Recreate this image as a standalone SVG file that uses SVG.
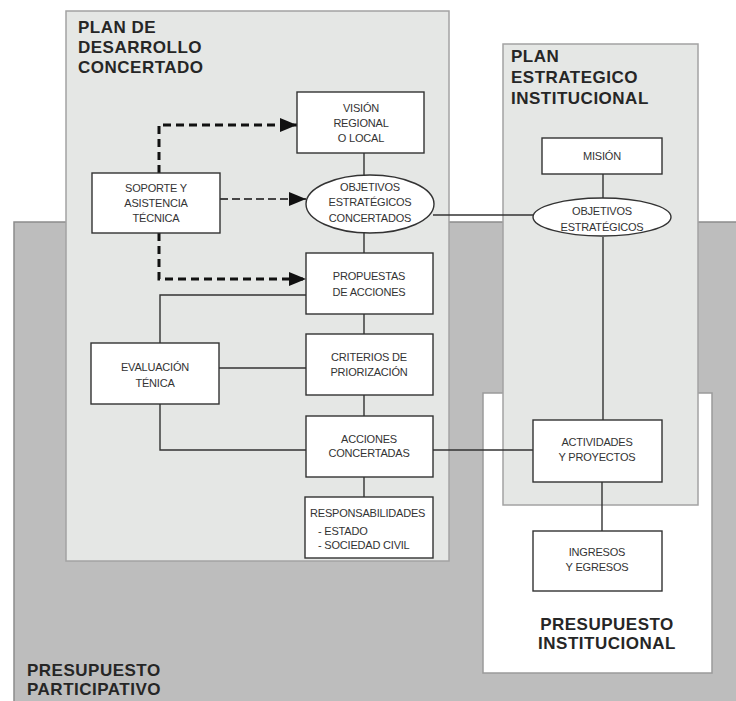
<svg xmlns="http://www.w3.org/2000/svg" width="736" height="701" viewBox="0 0 736 701">
<defs>
<style>
.node{fill:#ffffff;stroke:#333333;stroke-width:1.4}
.t{font-family:"Liberation Sans",Arial,sans-serif;font-size:11px;fill:#333333;text-anchor:middle;letter-spacing:-0.2px}
.tl{font-family:"Liberation Sans",Arial,sans-serif;font-size:11px;fill:#333333;letter-spacing:-0.2px}
.title{font-family:"Liberation Sans",Arial,sans-serif;font-size:17px;font-weight:bold;fill:#262626;letter-spacing:0.5px}
.ln{fill:none;stroke:#333333;stroke-width:1.4}
.dash1{fill:none;stroke:#111111;stroke-width:3;stroke-dasharray:8 5}
.dash2{fill:none;stroke:#111111;stroke-width:1.6;stroke-dasharray:8 4}
</style>
<marker id="arr" markerUnits="userSpaceOnUse" markerWidth="18" markerHeight="14" refX="17" refY="7" orient="auto">
<path d="M0,0 L17,7 L0,14 Z" fill="#111111"/>
</marker>
</defs>
<rect width="736" height="701" fill="#ffffff"/>
<g id="presupuesto-participativo">
<rect x="14" y="222" width="730" height="490" fill="#bdbdbd" stroke="#8c8c8c" stroke-width="1.5"/>
<text class="title" x="27" y="676">PRESUPUESTO</text>
<text class="title" x="27" y="695">PARTICIPATIVO</text>
</g>
<g id="plan-desarrollo-concertado">
<rect x="66" y="11" width="383" height="550" fill="#e5e7e5" stroke="#a3a3a3" stroke-width="1.5"/>
<text class="title" x="78" y="33">PLAN DE</text>
<text class="title" x="78" y="53">DESARROLLO</text>
<text class="title" x="78" y="73">CONCERTADO</text>
</g>
<g id="presupuesto-institucional">
<rect x="483" y="393" width="229" height="280" fill="#ffffff" stroke="#9a9a9a" stroke-width="1.5"/>
<text class="title" x="607" y="630" text-anchor="middle">PRESUPUESTO</text>
<text class="title" x="607" y="649" text-anchor="middle">INSTITUCIONAL</text>
</g>
<g id="plan-estrategico-institucional">
<rect x="503" y="44" width="195" height="461" fill="#e5e7e5" stroke="#a3a3a3" stroke-width="1.5"/>
<text class="title" x="511" y="62">PLAN</text>
<text class="title" x="511" y="83">ESTRATEGICO</text>
<text class="title" x="511" y="104">INSTITUCIONAL</text>
</g>
<g id="connectors">
<path class="ln" d="M364,153 V175"/>
<path class="ln" d="M364,233 V253"/>
<path class="ln" d="M364,314 V334"/>
<path class="ln" d="M364,395 V416"/>
<path class="ln" d="M364,477 V497"/>
<path class="ln" d="M160,343 V295 H306"/>
<path class="ln" d="M219,368 H306"/>
<path class="ln" d="M160,404 V450 H306"/>
<path class="ln" d="M433,450 H533"/>
<path class="ln" d="M433,215 H534"/>
<path class="ln" d="M603,174 V198"/>
<path class="ln" d="M603,237 V420"/>
<path class="ln" d="M602,482 V531"/>
<path class="dash1" d="M159,173 V125 H297" marker-end="url(#arr)"/>
<path class="dash2" d="M220,199 H306" marker-end="url(#arr)"/>
<path class="dash1" d="M159,233 V279 H306" marker-end="url(#arr)"/>
</g>
<g id="vision">
<rect class="node" x="297" y="92" width="127" height="61"/>
<text class="t" x="361" y="112">VISIÓN</text>
<text class="t" x="361" y="127">REGIONAL</text>
<text class="t" x="361" y="142">O LOCAL</text>
</g>
<g id="soporte">
<rect class="node" x="92" y="173" width="128" height="60"/>
<text class="t" x="156" y="192">SOPORTE Y</text>
<text class="t" x="156" y="207">ASISTENCIA</text>
<text class="t" x="156" y="222">TÉCNICA</text>
</g>
<g id="objetivos-concertados">
<ellipse class="node" cx="370" cy="204" rx="64" ry="29"/>
<text class="t" x="370" y="191">OBJETIVOS</text>
<text class="t" x="370" y="206">ESTRATÉGICOS</text>
<text class="t" x="370" y="222">CONCERTADOS</text>
</g>
<g id="propuestas">
<rect class="node" x="306" y="253" width="127" height="61"/>
<text class="t" x="369" y="280">PROPUESTAS</text>
<text class="t" x="369" y="296">DE ACCIONES</text>
</g>
<g id="criterios">
<rect class="node" x="306" y="334" width="127" height="61"/>
<text class="t" x="369" y="361">CRITERIOS DE</text>
<text class="t" x="369" y="376">PRIORIZACIÓN</text>
</g>
<g id="acciones">
<rect class="node" x="306" y="416" width="127" height="61"/>
<text class="t" x="369" y="443">ACCIONES</text>
<text class="t" x="369" y="457">CONCERTADAS</text>
</g>
<g id="responsabilidades">
<rect class="node" x="305" y="497" width="128" height="61"/>
<text class="tl" x="310" y="517">RESPONSABILIDADES</text>
<text class="tl" x="318" y="535">- ESTADO</text>
<text class="tl" x="318" y="549">- SOCIEDAD CIVIL</text>
</g>
<g id="evaluacion">
<rect class="node" x="91" y="343" width="128" height="61"/>
<text class="t" x="155" y="371">EVALUACIÓN</text>
<text class="t" x="155" y="387">TÉNICA</text>
</g>
<g id="mision">
<rect class="node" x="542" y="138" width="120" height="36"/>
<text class="t" x="602" y="160">MISIÓN</text>
</g>
<g id="objetivos-estrategicos">
<ellipse class="node" cx="602" cy="217" rx="69" ry="19"/>
<text class="t" x="602" y="215">OBJETIVOS</text>
<text class="t" x="602" y="231">ESTRATÉGICOS</text>
</g>
<g id="actividades">
<rect class="node" x="533" y="420" width="129" height="62"/>
<text class="t" x="597" y="446">ACTIVIDADES</text>
<text class="t" x="597" y="461">Y PROYECTOS</text>
</g>
<g id="ingresos">
<rect class="node" x="533" y="531" width="129" height="60"/>
<text class="t" x="597" y="556">INGRESOS</text>
<text class="t" x="597" y="571">Y EGRESOS</text>
</g>
</svg>
